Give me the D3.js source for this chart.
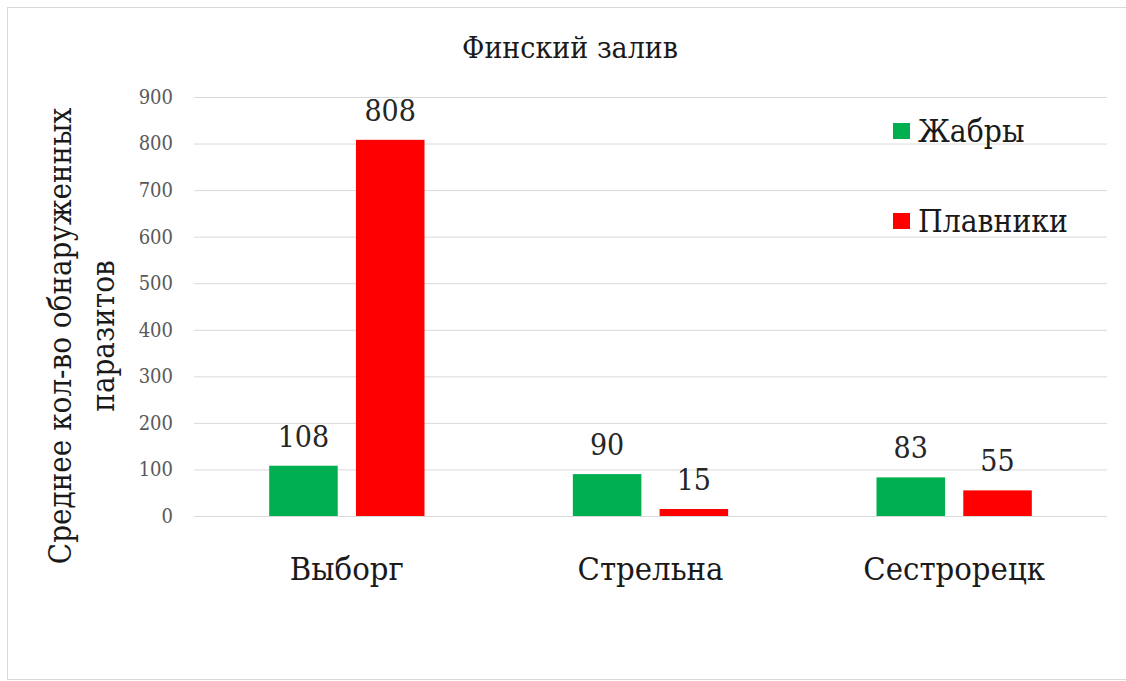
<!DOCTYPE html>
<html>
<head>
<meta charset="utf-8">
<script src="https://cdn.jsdelivr.net/npm/d3@7"></script>
<style>
  body { margin: 0; background: #fff; }
  svg text { font-family: 'DejaVu Serif Condensed', 'DejaVu Serif', serif; font-stretch: condensed; }
  .gridlines line { stroke: #d9d9d9; stroke-width: 1; }
  .gridlines .domain { display: none; }
  .y-axis text { fill: #595959; font-size: 20px; }
  .y-axis .domain, .y-axis line { display: none; }
</style>
</head>
<body>
<div id="chart"></div>
<script>
// data
const categories = ['Выборг', 'Стрельна', 'Сестрорецк'];
const series = ['Жабры', 'Плавники'];
const gills = [108, 90, 83];
const fins = [808, 15, 55];
const yTicks = [0, 100, 200, 300, 400, 500, 600, 700, 800, 900];
const colors = ['#00b050', '#ff0000'];

const width = 1126;
const height = 681;

const svg = d3.select('#chart')
  .append('svg')
  .attr('width', width)
  .attr('height', height);

// outer frame
svg.append('rect')
  .attr('x', 7.5).attr('y', 7.5)
  .attr('width', width + 10).attr('height', 672)
  .attr('fill', '#fff')
  .attr('stroke', '#d9d9d9');

const plot = { left: 195, right: 1106, top: 97, bottom: 516 };

const x0 = d3.scaleBand()
  .domain(categories)
  .range([plot.left, plot.right]);

const x1 = d3.scaleBand()
  .domain(series)
  .range([0, x0.bandwidth()])
  .paddingInner(0.21)
  .paddingOuter(0.855);

const y = d3.scaleLinear()
  .domain([0, 900])
  .range([plot.bottom, plot.top]);

// gridlines
svg.append('g')
  .attr('class', 'gridlines')
  .attr('transform', `translate(${plot.left - 1}, 0)`)
  .call(d3.axisLeft(y).tickValues(yTicks).tickFormat('').tickSize(-(plot.right - plot.left + 2)));

// y axis labels
svg.append('g')
  .attr('class', 'y-axis')
  .attr('transform', `translate(${plot.left - 5}, 0)`)
  .call(d3.axisLeft(y).tickValues(yTicks).tickSize(0).tickPadding(17));

// rows for bars
const rows = categories.map((c, i) => ({ category: c, values: [gills[i], fins[i]] }));

const groups = svg.append('g')
  .selectAll('g')
  .data(rows)
  .join('g')
  .attr('transform', (d) => `translate(${x0(d.category)}, 0)`);

const bars = groups.selectAll('g.bar')
  .data((d) => d.values.map((v, j) => ({ series: series[j], value: v, j })))
  .join('g')
  .attr('class', 'bar');

bars.append('rect')
  .attr('x', (d) => x1(d.series))
  .attr('y', (d) => y(d.value))
  .attr('width', x1.bandwidth())
  .attr('height', (d) => y(0) - y(d.value))
  .attr('fill', (d) => colors[d.j]);

bars.append('text')
  .attr('x', (d) => x1(d.series) + x1.bandwidth() / 2)
  .attr('y', (d) => y(d.value) - 19)
  .attr('text-anchor', 'middle')
  .attr('font-size', 30)
  .attr('fill', '#262626')
  .text((d) => d.value);

// category labels
svg.append('g')
  .selectAll('text')
  .data(categories)
  .join('text')
  .attr('x', (d) => x0(d) + x0.bandwidth() / 2)
  .attr('y', 580)
  .attr('text-anchor', 'middle')
  .attr('font-size', 32.5)
  .attr('fill', '#1a1a1a')
  .text((d) => d);

// title
svg.append('text')
  .attr('x', 570)
  .attr('y', 58)
  .attr('text-anchor', 'middle')
  .attr('font-size', 30)
  .attr('fill', '#1a1a1a')
  .text('Финский залив');

// y axis title
const yTitle = svg.append('text')
  .attr('transform', 'translate(0, 336) rotate(-90)')
  .attr('text-anchor', 'middle')
  .attr('font-size', 31)
  .attr('fill', '#1a1a1a');
yTitle.append('tspan').attr('x', 0).attr('y', 71).text('Среднее кол-во обнаруженных');
yTitle.append('tspan').attr('x', 0).attr('y', 114).text('паразитов');

// legend
const legend = svg.append('g')
  .selectAll('g')
  .data(series)
  .join('g')
  .attr('transform', (d, i) => `translate(893, ${123 + i * 90})`);

legend.append('rect')
  .attr('width', 17)
  .attr('height', 16)
  .attr('fill', (d, i) => colors[i]);

legend.append('text')
  .attr('x', 25)
  .attr('y', 19)
  .attr('font-size', 31.5)
  .attr('fill', '#1a1a1a')
  .text((d) => d);
</script>
</body>
</html>
